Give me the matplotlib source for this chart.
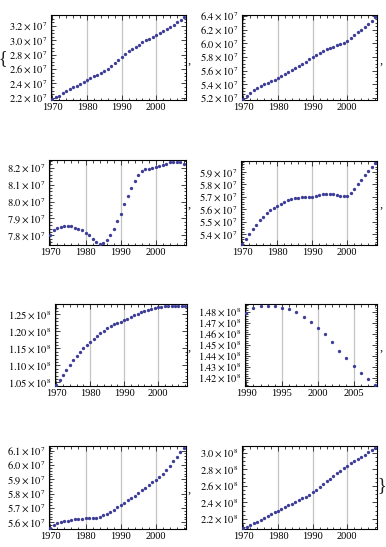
import numpy as np
import matplotlib.pyplot as plt
from matplotlib.ticker import FixedLocator, MultipleLocator

plt.rcParams['font.family'] = 'serif'
plt.rcParams['font.serif'] = ['Liberation Serif', 'DejaVu Serif']
plt.rcParams['mathtext.fontset'] = 'stix'

# data (population)
years = list(range(1970, 2009))
years_russia = list(range(1990, 2009))

canada = [2.18, 2.21, 2.23, 2.26, 2.29, 2.32, 2.35, 2.37, 2.39, 2.42,
          2.45, 2.48, 2.50, 2.52, 2.54, 2.57, 2.60, 2.64, 2.68, 2.73,
          2.77, 2.81, 2.85, 2.88, 2.91, 2.94, 2.97, 3.00, 3.02, 3.05,
          3.07, 3.10, 3.13, 3.16, 3.19, 3.22, 3.25, 3.29, 3.33]
france = [5.18, 5.22, 5.27, 5.31, 5.34, 5.37, 5.40, 5.42, 5.44, 5.46,
          5.49, 5.52, 5.55, 5.58, 5.61, 5.64, 5.67, 5.70, 5.73, 5.77,
          5.80, 5.83, 5.86, 5.88, 5.91, 5.93, 5.95, 5.97, 5.99, 6.01,
          6.04, 6.08, 6.12, 6.16, 6.20, 6.24, 6.28, 6.33, 6.39]
germany = [7.804, 7.830, 7.842, 7.852, 7.858, 7.858, 7.854, 7.846, 7.840, 7.830,
           7.816, 7.800, 7.780, 7.760, 7.748, 7.756, 7.774, 7.800, 7.838, 7.886,
           7.928, 7.984, 8.030, 8.080, 8.122, 8.156, 8.180, 8.192, 8.192, 8.196,
           8.204, 8.210, 8.214, 8.222, 8.232, 8.236, 8.236, 8.232, 8.224]
italy = [5.320, 5.360, 5.400, 5.440, 5.474, 5.510, 5.538, 5.570, 5.597, 5.613,
         5.629, 5.642, 5.658, 5.671, 5.679, 5.687, 5.690, 5.695, 5.698, 5.698,
         5.698, 5.703, 5.711, 5.719, 5.719, 5.719, 5.719, 5.714, 5.706, 5.703,
         5.708, 5.727, 5.762, 5.802, 5.834, 5.871, 5.905, 5.937, 5.974]
japan = [1.042, 1.057, 1.072, 1.087, 1.102, 1.116, 1.129, 1.139, 1.150, 1.159,
         1.168, 1.177, 1.186, 1.194, 1.202, 1.209, 1.215, 1.221, 1.224, 1.228,
         1.234, 1.238, 1.243, 1.248, 1.252, 1.256, 1.260, 1.263, 1.265, 1.268,
         1.271, 1.273, 1.275, 1.276, 1.276, 1.276, 1.276, 1.276, 1.276]
russia = [1.4794, 1.4841, 1.4859, 1.4859, 1.4859, 1.4841, 1.4825, 1.4797, 1.4759, 1.4713,
          1.4656, 1.4597, 1.4525, 1.4450, 1.4378, 1.4313, 1.4244, 1.4188, 1.4134]
uk = [5.559, 5.579, 5.593, 5.602, 5.607, 5.609, 5.618, 5.621, 5.621, 5.623,
      5.628, 5.628, 5.628, 5.632, 5.639, 5.648, 5.660, 5.671, 5.688, 5.704,
      5.718, 5.736, 5.754, 5.771, 5.787, 5.805, 5.824, 5.842, 5.860, 5.879,
      5.895, 5.916, 5.939, 5.966, 5.994, 6.026, 6.059, 6.088, 6.121]
usa = [2.085, 2.105, 2.125, 2.145, 2.165, 2.185, 2.205, 2.228, 2.252, 2.277,
       2.297, 2.320, 2.342, 2.363, 2.383, 2.404, 2.426, 2.448, 2.470, 2.493,
       2.521, 2.555, 2.590, 2.624, 2.656, 2.688, 2.719, 2.751, 2.784, 2.815,
       2.847, 2.875, 2.901, 2.926, 2.953, 2.980, 3.009, 3.037, 3.066]

# y ticks (mantissa) and exponents
ticks_canada = [2.2, 2.4, 2.6, 2.8, 3.0, 3.2]
ticks_france = [5.2, 5.4, 5.6, 5.8, 6.0, 6.2, 6.4]
ticks_germany = [7.8, 7.9, 8.0, 8.1, 8.2]
ticks_italy = [5.4, 5.5, 5.6, 5.7, 5.8, 5.9]
ticks_japan = [1.05, 1.10, 1.15, 1.20, 1.25]
ticks_russia = [1.42, 1.43, 1.44, 1.45, 1.46, 1.47, 1.48]
ticks_uk = [5.6, 5.7, 5.8, 5.9, 6.0, 6.1]
ticks_usa = [2.2, 2.4, 2.6, 2.8, 3.0]
xticks_main = [1970, 1980, 1990, 2000]
xticks_russia = [1990, 1995, 2000, 2005]

W, H = 386, 547
dot_color = '#3d3d99'
fs = 7.5

fig = plt.figure(figsize=(W / 100, H / 100), dpi=100)

# (x, y, yticks, decimals, exponent, ytick minor step, xticks, xminor, pixel box)
panels = [
    (years, canada, ticks_canada, 1, 7, 0.05, xticks_main, 2, (51, 15, 186, 100)),
    (years, france, ticks_france, 1, 7, 0.05, xticks_main, 2, (242, 15, 377, 100)),
    (years, germany, ticks_germany, 1, 7, 0.02, xticks_main, 2, (49, 160, 186, 245)),
    (years, italy, ticks_italy, 1, 7, 0.02, xticks_main, 2, (241, 161, 377, 245)),
    (years, japan, ticks_japan, 2, 8, 0.01, xticks_main, 2, (55, 304, 187, 386)),
    (years_russia, russia, ticks_russia, 2, 8, 0.002, xticks_russia, 1, (245, 304, 377, 386)),
    (years, uk, ticks_uk, 1, 7, 0.02, xticks_main, 2, (49, 446, 186, 529)),
    (years, usa, ticks_usa, 1, 8, 0.05, xticks_main, 2, (242, 446, 377, 529)),
]

for xs, ys, yt, dec, ex, ymin_step, xt, xmin_step, (l, t, r, b) in panels:
    ax = fig.add_axes([l / W, 1 - b / H, (r - l) / W, (b - t) / H])
    ax.plot(xs, ys, 'o', color=dot_color, ms=2.4, mew=0, zorder=3)
    span = xs[-1] - xs[0]
    ax.set_xlim(xs[0] - span * 0.01, xs[-1] + span * 0.015)
    yr = max(ys) - min(ys)
    ax.set_ylim(min(ys) - yr * 0.01, max(ys) + yr * 0.02)
    ax.yaxis.set_major_locator(FixedLocator(yt))
    ax.set_yticklabels([r'$%.*f\times10^{%d}$' % (dec, v, ex) for v in yt])
    ax.yaxis.set_minor_locator(MultipleLocator(ymin_step))
    ax.xaxis.set_major_locator(FixedLocator(xt))
    ax.set_xticklabels([str(v) for v in xt])
    ax.xaxis.set_minor_locator(MultipleLocator(xmin_step))
    ax.grid(axis='x', which='major', color='#c4c4c4', lw=0.9)
    ax.set_axisbelow(True)
    ax.tick_params(which='both', direction='in', top=True, right=True,
                   labelsize=fs, pad=2.5, width=0.6, color='#222222')
    ax.tick_params(which='major', length=3.5)
    ax.tick_params(which='minor', length=1.8)
    for s in ax.spines.values():
        s.set_linewidth(0.8)

# list punctuation around the panels
txt = dict(fontsize=9, ha='center', va='center', color='#222222')
fig.text(3 / W, 1 - 59 / H, '{', fontsize=13, ha='center', va='center', color='#222222')
for yy in [61, 205, 348, 490]:
    fig.text(189 / W, 1 - yy / H, ',', **txt)
for yy in [61, 205, 348]:
    fig.text(381 / W, 1 - yy / H, ',', **txt)
fig.text(382 / W, 1 - 486 / H, '}', fontsize=13, ha='center', va='center', color='#222222')

plt.savefig('out.png', dpi=100)
